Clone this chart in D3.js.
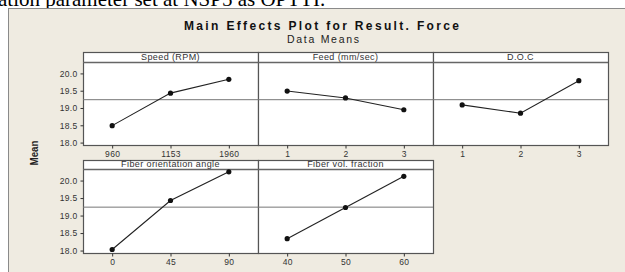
<!DOCTYPE html>
<html>
<head>
<meta charset="utf-8">
<script src="https://cdn.jsdelivr.net/npm/d3@7"></script>
<style>
  body { margin: 0; background: #fff; }
  svg { display: block; }
</style>
</head>
<body>
<div id="chart"></div>
<script>
// factors and their levels
var factors = ["Speed (RPM)", "Feed (mm/sec)", "D.O.C", "Fiber orientation angle", "Fiber vol. fraction"];
var levels = [
    ["960", "1153", "1960"],
    ["1", "2", "3"],
    ["1", "2", "3"],
    ["0", "45", "90"],
    ["40", "50", "60"]
];
// mean of result force at each level
var means = [
    [18.49, 19.43, 19.83],
    [19.49, 19.29, 18.95],
    [19.09, 18.85, 19.79],
    [18.03, 19.43, 20.25],
    [18.34, 19.23, 20.12]
];
var grandMean = 19.24;
var yTicks = [18.0, 18.5, 19.0, 19.5, 20.0];

var width = 625, height = 272;
var sans = "Liberation Sans, Arial, sans-serif";

var svg = d3.select("#chart")
    .append("svg")
    .attr("width", width)
    .attr("height", height);

// cropped line of text from the page above the figure
svg.append("text")
    .attr("x", -2)
    .attr("y", 6)
    .attr("font-family", "Liberation Serif, Times New Roman, serif")
    .attr("font-size", 21)
    .attr("fill", "#000")
    .text("ation parameter set at NSP5 as OPTTI.");

// beige frame
svg.append("rect")
    .attr("x", 8.5)
    .attr("y", 8.5)
    .attr("width", 630)
    .attr("height", 280)
    .attr("fill", "#efebe1")
    .attr("stroke", "#8a8a8a")
    .attr("stroke-width", 1);

svg.append("text")
    .attr("x", 184)
    .attr("y", 30)
    .attr("textLength", 275)
    .attr("lengthAdjust", "spacing")
    .attr("font-family", sans)
    .attr("font-weight", "bold")
    .attr("font-size", 12)
    .attr("fill", "#111")
    .text("Main Effects Plot for Result. Force");

svg.append("text")
    .attr("x", 287)
    .attr("y", 43)
    .attr("textLength", 72)
    .attr("lengthAdjust", "spacing")
    .attr("font-family", sans)
    .attr("font-size", 10.5)
    .attr("fill", "#222")
    .text("Data Means");

svg.append("text")
    .attr("transform", "translate(38,153) rotate(-90)")
    .attr("text-anchor", "middle")
    .attr("textLength", 25)
    .attr("lengthAdjust", "spacingAndGlyphs")
    .attr("font-family", "Liberation Sans Narrow, Arial Narrow, sans-serif")
    .attr("font-weight", "bold")
    .attr("font-size", 10.5)
    .attr("fill", "#222")
    .text("Mean");

// panel layout
var panelW = 175, panelX0 = 83;
var rows = [
    { top: 52, stripBottom: 62, bottom: 145 },
    { top: 160, stripBottom: 169, bottom: 253 }
];
var yDomain = [17.93, 20.33];

var line = d3.line();

factors.forEach(function (name, i) {
    var r = rows[Math.floor(i / 3)];
    var col = i % 3;
    var x0 = panelX0 + col * panelW;

    var x = d3.scalePoint()
        .domain(levels[i])
        .range([x0, x0 + panelW])
        .padding(0.5);

    var y = d3.scaleLinear()
        .domain(yDomain)
        .range([r.bottom, r.stripBottom]);

    var g = svg.append("g").attr("class", "panel");

    g.append("rect")
        .attr("x", x0 + 0.5)
        .attr("y", r.top + 0.5)
        .attr("width", panelW)
        .attr("height", r.bottom - r.top)
        .attr("fill", "#fff")
        .attr("stroke", "#555")
        .attr("stroke-width", 1.2);

    // strip header
    g.append("line")
        .attr("x1", x0).attr("x2", x0 + panelW)
        .attr("y1", r.stripBottom + 0.5).attr("y2", r.stripBottom + 0.5)
        .attr("stroke", "#666")
        .attr("stroke-width", 1.5);

    g.append("text")
        .attr("x", x0 + panelW / 2)
        .attr("y", r.stripBottom - 2)
        .attr("text-anchor", "middle")
        .attr("font-family", sans)
        .attr("font-size", 9)
        .attr("letter-spacing", 0.4)
        .attr("fill", "#333")
        .text(name);

    // grand mean reference line
    g.append("line")
        .attr("x1", x0).attr("x2", x0 + panelW)
        .attr("y1", y(grandMean)).attr("y2", y(grandMean))
        .attr("stroke", "#777")
        .attr("stroke-width", 1);

    // x axis
    var xAxis = g.append("g")
        .attr("transform", "translate(0," + (r.bottom + 0.5) + ")")
        .call(d3.axisBottom(x).tickSize(3).tickSizeOuter(0));
    xAxis.select(".domain").remove();
    xAxis.selectAll("line").attr("stroke", "#333");
    xAxis.selectAll("text")
        .attr("font-family", sans)
        .attr("font-size", 8.5)
        .attr("letter-spacing", 0.3)
        .attr("fill", "#333")
        .attr("dy", "0.6em");

    // y axis only in the first column
    if (col === 0) {
        var yAxis = g.append("g")
            .attr("transform", "translate(" + (x0 + 0.5) + ",0)")
            .call(d3.axisLeft(y).tickValues(yTicks).tickFormat(d3.format(".1f")).tickSize(3).tickSizeOuter(0));
        yAxis.select(".domain").remove();
        yAxis.selectAll("line").attr("stroke", "#333");
        yAxis.selectAll("text")
            .attr("font-family", sans)
            .attr("font-size", 8.5)
            .attr("letter-spacing", 0.3)
            .attr("fill", "#333");
    }

    var pts = levels[i].map(function (lv, j) { return [x(lv), y(means[i][j])]; });

    g.append("path")
        .attr("d", line(pts))
        .attr("fill", "none")
        .attr("stroke", "#222")
        .attr("stroke-width", 1.1);

    g.selectAll("circle")
        .data(pts)
        .enter()
        .append("circle")
        .attr("cx", function (d) { return d[0]; })
        .attr("cy", function (d) { return d[1]; })
        .attr("r", 2.6)
        .attr("fill", "#111");
});
</script>
</body>
</html>
